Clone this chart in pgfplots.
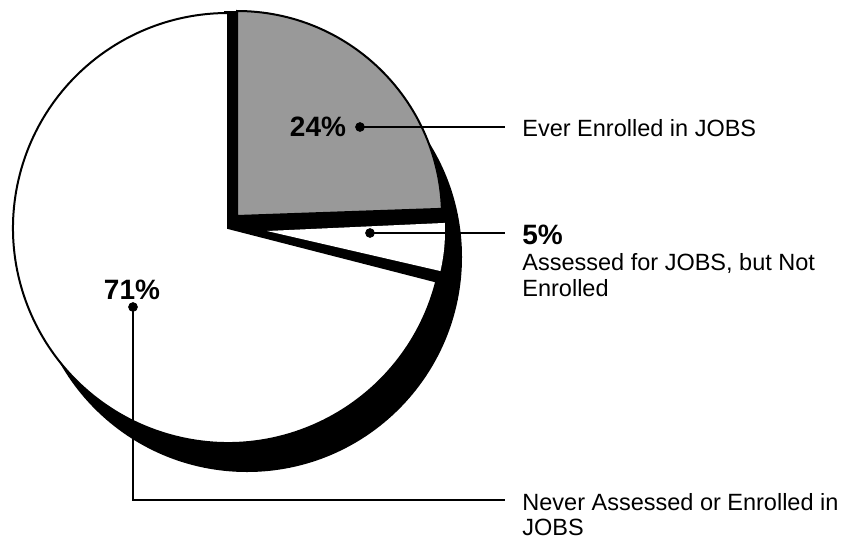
\documentclass[border=0pt]{standalone}
\usepackage{pgfplots}
\usepackage{pgfplotstable}
\pgfplotsset{compat=1.18}
\usepackage{fontspec}
\setmainfont{Liberation Sans}

\pgfplotstableread{
key value
ever 24
assessed 5
never 71
}\piedata

\begin{document}
\begin{tikzpicture}
\pgfplotstablegetelem{0}{value}\of\piedata \let\vA\pgfplotsretval
\pgfplotstablegetelem{1}{value}\of\piedata \let\vB\pgfplotsretval
\pgfmathsetmacro{\aB}{90-3.6*\vA}
\pgfmathsetmacro{\aC}{\aB-3.6*\vB}
\pgfmathsetmacro{\aBg}{\aB-1.6}
\pgfmathsetmacro{\aBw}{\aB-1.0}
\pgfmathsetmacro{\aCw}{\aC+1.4}
\begin{axis}[hide axis, scale only axis, width=424.5pt, height=271.5pt,
  xmin=0, xmax=849, ymin=0, ymax=543, clip=false]
% shadow
\fill[black] (axis cs:247,286) circle[radius=215];
% black backing of the two small slices
\fill[black] (axis cs:228,315) -- (axis cs:{228+217*cos(\aC)},{315+217*sin(\aC)})
  arc[start angle=\aC, end angle=91, radius=217] -- cycle;
% 71% slice
\filldraw[fill=white, draw=black, line width=1pt] (axis cs:228,315) -- (axis cs:{228+215*cos(\aC)},{315+215*sin(\aC)})
  arc[start angle=\aC, end angle=-270, radius=215] -- cycle;
% 5% slice
\fill[white] (axis cs:267,312) -- (axis cs:{267+178*cos(\aCw)},{312+178*sin(\aCw)})
  arc[start angle=\aCw, end angle=\aBw, radius=178] -- cycle;
% 24% slice
\filldraw[fill=black!40, draw=black, line width=1pt] (axis cs:237,327) -- (axis cs:{237+205*cos(\aBg)},{327+205*sin(\aBg)})
  arc[start angle=\aBg, end angle=90, radius=205] -- cycle;
% leaders
\addplot[black, line width=0.9pt] coordinates {(360,416) (505,416)};
\addplot[black, line width=0.9pt] coordinates {(370,310) (505,310)};
\addplot[black, line width=0.9pt] coordinates {(133,236) (133,43) (505,43)};
\addplot[only marks, mark=*, mark size=2.2pt, black] coordinates {(360,416) (370,310) (133,236)};
% labels
\node[font=\bfseries\fontsize{14}{16}\selectfont] at (axis cs:318,416) {24\%};
\node[font=\bfseries\fontsize{14}{16}\selectfont] at (axis cs:132,253) {71\%};
\node[font=\bfseries\fontsize{14}{16}\selectfont, anchor=west, inner sep=0pt] at (axis cs:522,308) {5\%};
\node[font=\fontsize{11.75}{14}\selectfont, anchor=west, inner sep=0pt] at (axis cs:522,415) {Ever Enrolled in JOBS};
\node[font=\fontsize{11.75}{14}\selectfont, anchor=west, inner sep=0pt] at (axis cs:522,280) {Assessed for JOBS, but Not};
\node[font=\fontsize{11.75}{14}\selectfont, anchor=west, inner sep=0pt] at (axis cs:522,255) {Enrolled};
\node[font=\fontsize{11.75}{14}\selectfont, anchor=west, inner sep=0pt] at (axis cs:522,41) {Never Assessed or Enrolled in};
\node[font=\fontsize{11.75}{14}\selectfont, anchor=west, inner sep=0pt] at (axis cs:522,16) {JOBS};
\end{axis}
\pgfresetboundingbox
\useasboundingbox (current axis.south west) rectangle (current axis.north east);
\end{tikzpicture}
\end{document}
